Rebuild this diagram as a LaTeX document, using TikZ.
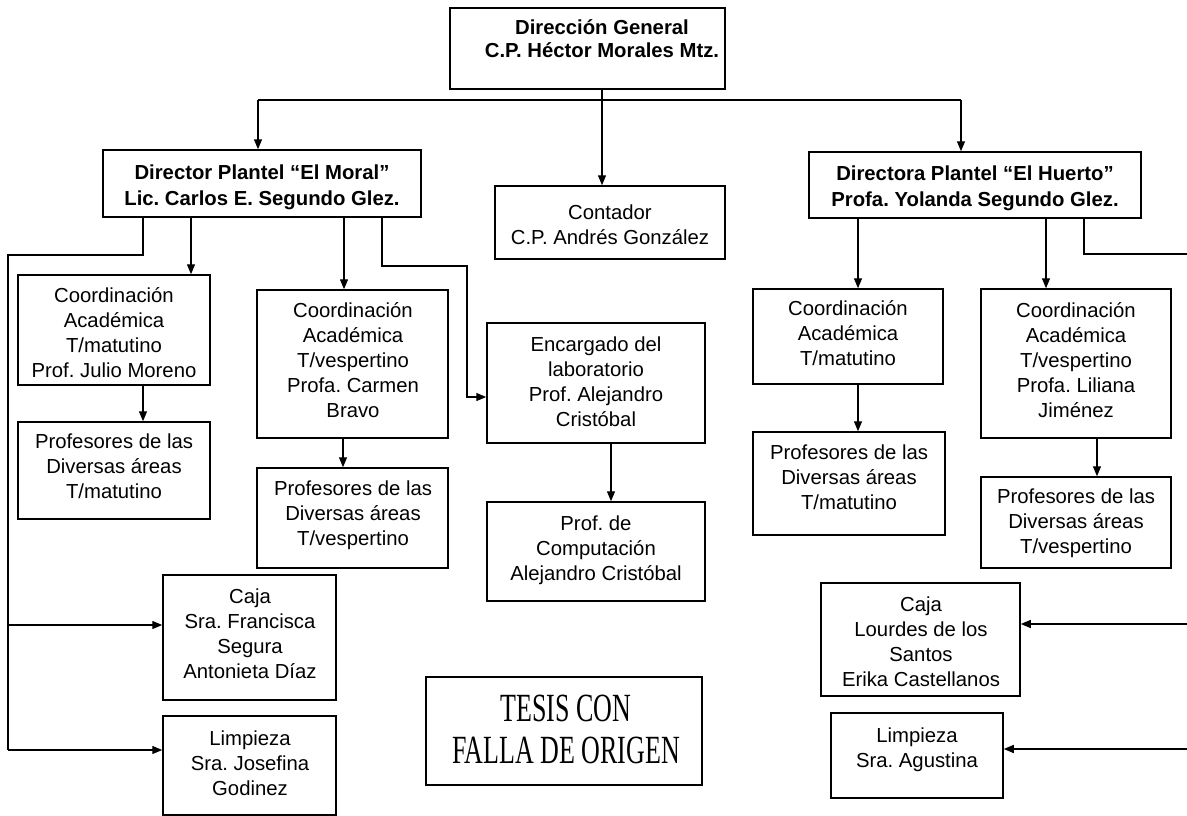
\documentclass[tikz,border=0pt]{standalone}
\usepackage{fontspec}
\setmainfont{Liberation Sans}
\newfontfamily\stampfont{Liberation Serif}
\usepackage{graphicx}
\usetikzlibrary{arrows.meta}
\frenchspacing

\tikzset{
  box/.style={draw, line width=1.5pt, inner sep=0pt},
  txt/.style={align=center, inner sep=0pt, font=\fontsize{20.3pt}{25pt}\selectfont},
  head/.style={align=center, inner sep=0pt, font=\fontsize{20.3pt}{26pt}\selectfont\bfseries},
  stamptxt/.style={align=center, inner sep=0pt, font=\stampfont\fontsize{40pt}{42pt}\selectfont},
  link/.style={line width=1.3pt},
  arr/.style={link, -{Triangle[length=10pt,width=8pt]}},
}

% box given by its left, top, right and bottom edges
\newcommand\orgbox[5]{%
  \node[box, minimum width={#4-#2}, minimum height={#5-#3}] (#1)
    at ({(#2+#4)/2},{(#3+#5)/2}) {};}

\begin{document}
\begin{tikzpicture}[x=1pt,y=-1pt]
\useasboundingbox (0,0) rectangle (1187,816);
\clip (0,0) rectangle (1187,816);

% ---- boxes
\orgbox{DG}{450}{8}{725}{89}
\orgbox{DM}{103}{150}{421}{217}
\orgbox{CT}{495}{186}{725}{259}
\orgbox{DH}{809}{152}{1141}{218}
\orgbox{CMa}{18}{275}{210}{385}
\orgbox{PMa}{18}{422}{210}{519}
\orgbox{CVa}{257}{290}{448}{438}
\orgbox{PVa}{257}{468}{448}{568}
\orgbox{EL}{487}{323}{705}{443}
\orgbox{PC}{487}{502}{705}{601}
\orgbox{CMb}{753}{289}{943}{384}
\orgbox{PMb}{753}{432}{945}{535}
\orgbox{CVb}{981}{289}{1171}{438}
\orgbox{PVb}{981}{477}{1171}{568}
\orgbox{CJa}{163}{575}{336}{700}
\orgbox{LPa}{163}{716}{336}{815}
\orgbox{CJb}{821}{583}{1020}{696}
\orgbox{LPb}{831}{713}{1003}{798}
\node[draw, line width=2.2pt, inner sep=0pt, minimum width=276, minimum height=108] (ST) at (564,731) {};

% ---- texts
\node[head, font=\fontsize{20.3pt}{23pt}\selectfont\bfseries] (DGt) at (602,41)
  {\strut Dirección General\\C.P. Héctor Morales Mtz.\strut};
\node[head] (DMt) at (262,187) {\strut Director Plantel “El Moral”\\Lic. Carlos E. Segundo Glez.\strut};
\node[txt] (CTt) at (610,226.5) {\strut Contador\\C.P. Andrés González\strut};
\node[head] (DHt) at (975,188.5) {\strut Directora Plantel “El Huerto”\\Profa. Yolanda Segundo Glez.\strut};
\node[txt] (CMat) at (114,335) {\strut Coordinación\\Académica\\T/matutino\\Prof. Julio Moreno\strut};
\node[txt] (PMat) at (114,468.5) {\strut Profesores de las\\Diversas áreas\\T/matutino\strut};
\node[txt] (CVat) at (353,362.5) {\strut Coordinación\\Académica\\T/vespertino\\Profa. Carmen\\Bravo\strut};
\node[txt] (PVat) at (353,515.5) {\strut Profesores de las\\Diversas áreas\\T/vespertino\strut};
\node[txt] (ELt) at (596,384) {\strut Encargado del\\laboratorio\\Prof. Alejandro\\Cristóbal\strut};
\node[txt] (PCt) at (596,550.5) {\strut Prof. de\\Computación\\Alejandro Cristóbal\strut};
\node[txt] (CMbt) at (848,335.5) {\strut Coordinación\\Académica\\T/matutino\strut};
\node[txt] (PMbt) at (849,479.5) {\strut Profesores de las\\Diversas áreas\\T/matutino\strut};
\node[txt] (CVbt) at (1076,362) {\strut Coordinación\\Académica\\T/vespertino\\Profa. Liliana\\Jiménez\strut};
\node[txt] (PVbt) at (1076,523.5) {\strut Profesores de las\\Diversas áreas\\T/vespertino\strut};
\node[txt] (CJat) at (250,636) {\strut Caja\\Sra. Francisca\\Segura\\Antonieta Díaz\strut};
\node[txt] (LPat) at (250,765) {\strut Limpieza\\Sra. Josefina\\Godinez\strut};
\node[txt] (CJbt) at (921,644) {\strut Caja\\Lourdes de los\\Santos\\Erika Castellanos\strut};
\node[txt] (LPbt) at (917,750) {\strut Limpieza\\Sra. Agustina\strut};
\node[stamptxt] (STt) at (566,729) {\scalebox{0.65}[1]{TESIS CON}\\\scalebox{0.65}[1]{FALLA DE ORIGEN}};

% ---- general direction, accountant and the bus to both schools
\coordinate (busL) at (258,100);
\coordinate (busR) at (961,100);
\coordinate (vDG) at (602,100);
\draw[arr] (DG.south -| vDG) -- (CT.north -| vDG);
\draw[link] (busL) -- (busR);
\draw[arr] (busL) -- (DM.north -| busL);
\draw[arr] (busR) -- (DH.north -| busR);

% ---- "El Moral"
\coordinate (a1) at (143,255);
\coordinate (a2) at (8,255);
\coordinate (a3) at (8,625);
\coordinate (a4) at (8,750);
\draw[link] (DM.south -| a1) -- (a1) -- (a2) -- (a4);
\draw[arr] (a3) -- (a3 -| CJa.west);
\draw[arr] (a4) -- (a4 -| LPa.west);
\coordinate (a5) at (191,0);
\draw[arr] (DM.south -| a5) -- (CMa.north -| a5);
\coordinate (a6) at (344,0);
\draw[arr] (DM.south -| a6) -- (CVa.north -| a6);
\coordinate (a7) at (382,266);
\coordinate (a8) at (467,266);
\coordinate (a9) at (467,397);
\draw[arr] (DM.south -| a7) -- (a7) -- (a8) -- (a9) -- (a9 -| EL.west);
\coordinate (a10) at (143,0);
\draw[arr] (CMa.south -| a10) -- (PMa.north -| a10);
\coordinate (a11) at (343,0);
\draw[arr] (CVa.south -| a11) -- (PVa.north -| a11);
\coordinate (a12) at (611,0);
\draw[arr] (EL.south -| a12) -- (PC.north -| a12);

% ---- "El Huerto"
\coordinate (b1) at (858,0);
\draw[arr] (DH.south -| b1) -- (CMb.north -| b1);
\draw[arr] (CMb.south -| b1) -- (PMb.north -| b1);
\coordinate (b2) at (1046,0);
\draw[arr] (DH.south -| b2) -- (CVb.north -| b2);
\coordinate (b3) at (1097,0);
\draw[arr] (CVb.south -| b3) -- (PVb.north -| b3);
\coordinate (b4) at (1084,254);
\coordinate (b5) at (1193,254);
\coordinate (b6) at (1193,624);
\coordinate (b7) at (1193,749);
\draw[link] (DH.south -| b4) -- (b4) -- (b5) -- (b7);
\draw[arr] (b6) -- (b6 -| CJb.east);
\draw[arr] (b7) -- (b7 -| LPb.east);
\end{tikzpicture}
\end{document}
